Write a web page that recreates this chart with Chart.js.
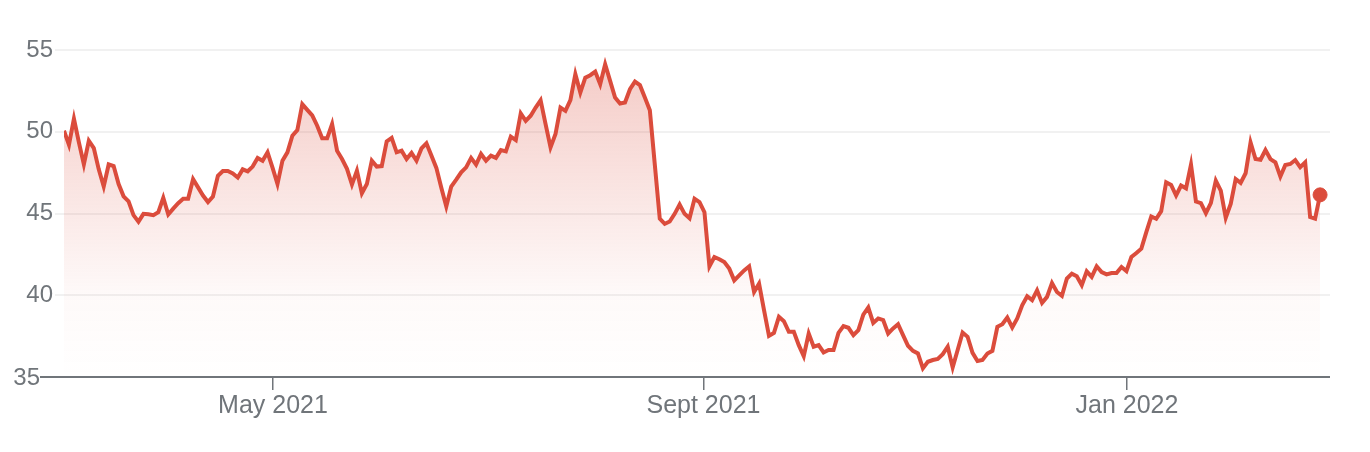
<!DOCTYPE html>
<html>
<head>
<meta charset="utf-8">
<script src="https://cdn.jsdelivr.net/npm/chart.js@4"></script>
<style>
  body { margin: 0; background: #fff; }
  #wrap { width: 1370px; height: 452px; }
</style>
</head>
<body>
<div id="wrap"><canvas id="myChart" width="1370" height="452"></canvas></div>
<script>
// daily closes, Mar 2021 - Feb 2022 (one value per trading day)
var closes = [
  50.06, 49.2, 50.8, 49.35, 48.0, 49.45, 49.0, 47.7, 46.65, 48.0, 47.9, 46.8, 46.05, 45.75, 44.9, 44.5,
  44.98, 44.95, 44.9, 45.08, 45.96, 44.94, 45.3, 45.63, 45.9, 45.9, 47.1, 46.6, 46.1, 45.7, 46.04, 47.3,
  47.6, 47.6, 47.45, 47.2, 47.7, 47.58, 47.87, 48.4, 48.23, 48.74, 47.8,
  46.8, 48.23, 48.74, 49.76, 50.1, 51.69, 51.34, 51.0, 50.37, 49.6, 49.6, 50.47, 48.84, 48.33, 47.73, 46.77,
  47.62, 46.24, 46.8, 48.23, 47.87, 47.9, 49.41, 49.62, 48.74, 48.84, 48.33, 48.7, 48.23, 48.98, 49.29, 48.54,
  47.79, 46.57, 45.43, 46.65, 47.07, 47.52, 47.82, 48.4, 47.99, 48.64, 48.23,
  48.54, 48.4, 48.88, 48.8, 49.7, 49.49, 51.12, 50.67, 50.98, 51.48, 51.93, 50.47, 49.04, 49.86, 51.48, 51.28,
  51.93, 53.52, 52.4, 53.31, 53.46, 53.68, 52.91, 54.13, 53.11, 52.09, 51.73, 51.79, 52.6, 53.07, 52.85, 52.09,
  51.32, 48.0, 44.68, 44.37, 44.51, 44.98, 45.55, 44.98, 44.71, 45.9, 45.69, 45.08,
  41.77, 42.34, 42.2, 42.03, 41.63, 40.91, 41.22, 41.52, 41.77, 40.2, 40.71, 39.09, 37.52, 37.7, 38.68, 38.41,
  37.76, 37.76, 36.95, 36.28, 37.66, 36.85, 36.95, 36.5, 36.65, 36.65, 37.7, 38.11, 38.01, 37.56, 37.87, 38.82,
  39.25, 38.31, 38.58, 38.48, 37.66, 37.97, 38.23, 37.56, 36.91, 36.6, 36.44,
  35.53, 35.93, 36.04, 36.1, 36.4, 36.85, 35.59, 36.65, 37.72, 37.46, 36.48, 35.98, 36.04, 36.44, 36.6, 38.07,
  38.23, 38.64, 38.03, 38.58, 39.39, 39.94, 39.7, 40.3, 39.53, 39.9, 40.75, 40.2, 39.96, 41.02, 41.32, 41.16,
  40.61, 41.46, 41.12, 41.77, 41.42, 41.28, 41.36, 41.36, 41.73, 41.48, 42.34, 42.58,
  42.85, 43.86, 44.82, 44.68, 45.14, 46.91, 46.75, 46.1, 46.71, 46.54, 47.99, 45.73, 45.63, 45.02, 45.63, 47.01,
  46.4, 44.74, 45.59, 47.11, 46.87, 47.46, 49.35, 48.33, 48.29, 48.88, 48.33, 48.13, 47.26, 47.97, 48.03, 48.27,
  47.83, 48.13, 44.78, 44.68, 46.14
];
// where the month labels fall, in trading-day index units
var monthTicks = [42.1, 128.8, 214.1];
var monthLabels = ['May 2021', 'Sept 2021', 'Jan 2022'];
var yTicks = [35, 40, 45, 50, 55];

var red = '#db4c3c';
var grey = '#70757a';
var fontFam = '"Liberation Sans", Arial, sans-serif';

var points = closes.map(function (v, i) { return { x: i, y: v }; });

// bottom axis line runs out under the "35" label, like the original
var baseline = {
  id: 'baseline',
  afterDatasetsDraw: function (chart) {
    var c = chart.ctx;
    var y = chart.scales.y.getPixelForValue(35);
    c.save();
    c.strokeStyle = grey;
    c.lineWidth = 2;
    c.beginPath();
    c.moveTo(40, y);
    c.lineTo(chart.chartArea.right, y);
    c.stroke();
    c.fillStyle = grey;
    c.font = '24px ' + fontFam;
    c.textAlign = 'right';
    c.textBaseline = 'middle';
    c.fillText('35', 40, y + 1);
    c.restore();
  }
};

var ctx = document.getElementById('myChart').getContext('2d');
new Chart(ctx, {
  type: 'line',
  data: {
    datasets: [{
      data: points,
      borderColor: red,
      borderWidth: 4,
      tension: 0,
      fill: 'start',
      backgroundColor: function (c) {
        var area = c.chart.chartArea;
        if (!area) return 'rgba(219,76,60,0.1)';
        var g = c.chart.ctx.createLinearGradient(0, area.top, 0, area.bottom);
        g.addColorStop(0, 'rgba(219,76,60,0.3)');
        g.addColorStop(0.75, 'rgba(219,76,60,0.03)');
        g.addColorStop(1, 'rgba(219,76,60,0)');
        return g;
      },
      pointRadius: function (c) { return c.dataIndex === closes.length - 1 ? 7 : 0; },
      pointBackgroundColor: red,
      pointBorderColor: red,
      pointBorderWidth: 1,
      pointHoverRadius: 0
    }]
  },
  options: {
    responsive: false,
    animation: false,
    layout: { padding: { left: 0, right: 40, top: 50, bottom: 30 } },
    plugins: { legend: { display: false }, tooltip: { enabled: false } },
    scales: {
      x: {
        type: 'linear',
        min: 0,
        max: 255,
        afterBuildTicks: function (s) {
          s.ticks = monthTicks.map(function (v) { return { value: v }; });
        },
        ticks: {
          autoSkip: false,
          maxRotation: 0,
          color: grey,
          padding: 1,
          font: { size: 25, family: fontFam },
          callback: function (v) { return monthLabels[monthTicks.indexOf(v)]; }
        },
        grid: { drawOnChartArea: false, drawTicks: true, tickLength: 13, color: grey, lineWidth: 1.5 },
        border: { display: false }
      },
      y: {
        min: 35,
        max: 55,
        afterBuildTicks: function (s) {
          s.ticks = yTicks.map(function (v) { return { value: v }; });
        },
        afterFit: function (s) { s.width = 64; },
        ticks: {
          color: grey,
          padding: 2,
          font: { size: 24, family: fontFam },
          callback: function (v) { return v === 35 ? '' : v; }
        },
        grid: { color: '#f1f1f1', lineWidth: 2, tickLength: 9 },
        border: { display: false }
      }
    }
  },
  plugins: [baseline]
});
</script>
</body>
</html>
